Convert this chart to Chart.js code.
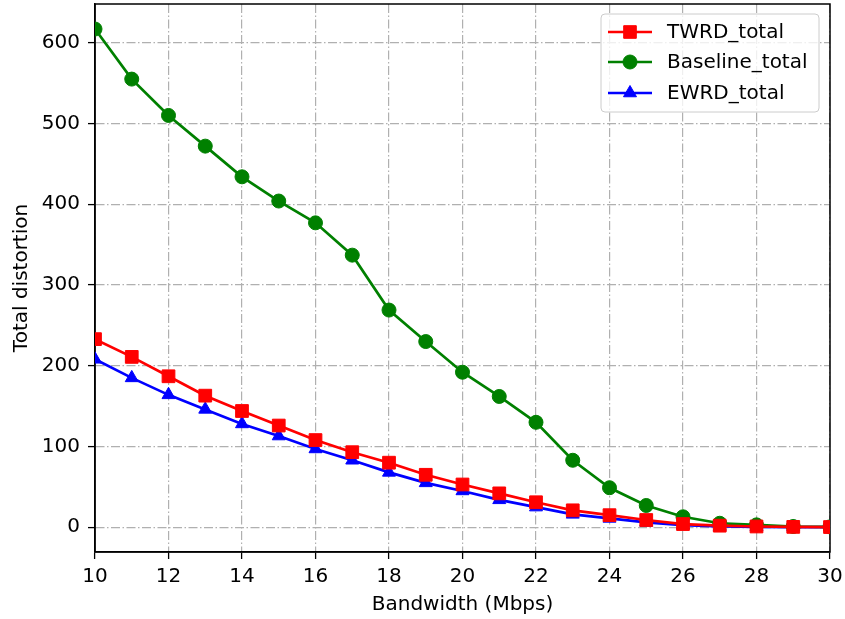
<!DOCTYPE html>
<html>
<head>
<meta charset="utf-8">
<script src="https://cdn.jsdelivr.net/npm/chart.js@4/dist/chart.umd.min.js"></script>
<style>
  html, body { margin: 0; padding: 0; background: #fff; }
  #wrap { width: 845px; height: 619px; }
</style>
</head>
<body>
<div id="wrap"><canvas id="c" width="845" height="619"></canvas></div>
<script>
const bandwidth = [10, 11, 12, 13, 14, 15, 16, 17, 18, 19, 20, 21, 22, 23, 24, 25, 26, 27, 28, 29, 30];
const twrdTotal = [233, 211, 187, 163, 144, 126, 108, 93, 80, 65, 53, 42, 31, 21, 15, 9, 4, 2, 1, 0.5, 0.3];
const baselineTotal = [617, 555, 510, 472, 434, 404, 377, 337, 269, 230, 192, 162, 130, 83, 49, 27, 13, 5, 3, 1, 0.5];
const ewrdTotal = [208, 185, 164, 146, 128, 113, 97, 83, 68, 55, 45, 34, 25, 16, 11, 6, 2.5, 1, 0.5, 0.3, 0.2];
const xTicks = [10, 12, 14, 16, 18, 20, 22, 24, 26, 28, 30];
const yTicks = [0, 100, 200, 300, 400, 500, 600];
const seriesNames = ['TWRD_total', 'Baseline_total', 'EWRD_total'];
const xTitle = 'Bandwidth (Mbps)';
const yTitle = 'Total distortion';

const FONT = "'DejaVu Sans', sans-serif";
const FS = 20;
const pts = arr => bandwidth.map((x, i) => ({x: x, y: arr[i]}));

function drawMarker(ctx, style, x, y, color) {
  ctx.save();
  ctx.fillStyle = color;
  ctx.strokeStyle = color;
  ctx.lineWidth = 1;
  ctx.beginPath();
  if (style === 'rect') {
    const s = 6.3;
    ctx.rect(x - s, y - s, 2 * s, 2 * s);
  } else if (style === 'circle') {
    ctx.arc(x, y, 7, 0, Math.PI * 2);
  } else {
    const r = 7.5;
    ctx.moveTo(x, y - r);
    ctx.lineTo(x + r * Math.sin(2 * Math.PI / 3), y - r * Math.cos(2 * Math.PI / 3));
    ctx.lineTo(x + r * Math.sin(4 * Math.PI / 3), y - r * Math.cos(4 * Math.PI / 3));
    ctx.closePath();
  }
  ctx.fill();
  ctx.stroke();
  ctx.restore();
}

const framePlugin = {
  id: 'frame',
  beforeDatasetsDraw(chart) {
    const {ctx, chartArea: a} = chart;
    ctx.save();
    ctx.strokeStyle = '#000';
    ctx.lineWidth = 1.5;
    ctx.strokeRect(a.left, a.top, a.right - a.left, a.bottom - a.top);
    ctx.restore();
  }
};

const legendPlugin = {
  id: 'mplLegend',
  afterDraw(chart) {
    const ctx = chart.ctx;
    const bx = 601, by = 14, bw = 218, bh = 98, r = 4;
    ctx.save();
    ctx.beginPath();
    ctx.moveTo(bx + r, by);
    ctx.lineTo(bx + bw - r, by);
    ctx.arcTo(bx + bw, by, bx + bw, by + r, r);
    ctx.lineTo(bx + bw, by + bh - r);
    ctx.arcTo(bx + bw, by + bh, bx + bw - r, by + bh, r);
    ctx.lineTo(bx + r, by + bh);
    ctx.arcTo(bx, by + bh, bx, by + bh - r, r);
    ctx.lineTo(bx, by + r);
    ctx.arcTo(bx, by, bx + r, by, r);
    ctx.closePath();
    ctx.fillStyle = 'rgba(255,255,255,0.8)';
    ctx.fill();
    ctx.strokeStyle = '#cccccc';
    ctx.lineWidth = 1;
    ctx.stroke();
    const rows = [32, 62, 93];
    chart.data.datasets.forEach((ds, i) => {
      const y = rows[i];
      ctx.beginPath();
      ctx.strokeStyle = ds.borderColor;
      ctx.lineWidth = 2.7;
      ctx.moveTo(608, y);
      ctx.lineTo(652, y);
      ctx.stroke();
      drawMarker(ctx, ds.pointStyle, 630, y, ds.borderColor);
      ctx.fillStyle = '#000';
      ctx.font = FS + 'px ' + FONT;
      ctx.textAlign = 'left';
      ctx.textBaseline = 'middle';
      ctx.fillText(ds.label, 667, y + 1);
    });
    ctx.restore();
  }
};

const mkDs = (label, data, color, style, radius) => ({
  label: label,
  data: pts(data),
  borderColor: color,
  backgroundColor: color,
  pointBackgroundColor: color,
  pointBorderColor: color,
  pointBorderWidth: 1,
  borderWidth: 2.7,
  pointStyle: style,
  pointRadius: radius,
  pointHoverRadius: radius,
  tension: 0,
  fill: false,
  clip: 0
});

new Chart(document.getElementById('c'), {
  type: 'line',
  data: {
    datasets: [
      mkDs(seriesNames[0], twrdTotal, '#ff0000', 'rect', 9),
      mkDs(seriesNames[1], baselineTotal, '#008000', 'circle', 7),
      mkDs(seriesNames[2], ewrdTotal, '#0000ff', 'triangle', 7.5)
    ]
  },
  options: {
    responsive: false,
    devicePixelRatio: 1,
    animation: false,
    layout: { autoPadding: false, padding: { left: 0, right: 15, top: 4, bottom: 0 } },
    plugins: { legend: { display: false }, tooltip: { enabled: false } },
    scales: {
      x: {
        type: 'linear',
        min: 10, max: 30,
        afterBuildTicks: s => { s.ticks = xTicks.map(v => ({value: v})); },
        afterFit: s => { s.height = 67; s.paddingLeft = 0; s.paddingRight = 0; },
        ticks: { color: '#000', font: { family: FONT, size: FS }, padding: 6, maxRotation: 0, autoSkip: false },
        grid: { color: '#b0b0b0', lineWidth: 1.2, tickLength: 7, tickColor: '#000', tickWidth: 1.3, tickBorderDash: [] },
        border: { display: true, color: '#000', width: 1.5, dash: [9, 2.5, 1.5, 2.5] },
        title: { display: true, text: xTitle, color: '#000', font: { family: FONT, size: FS }, padding: { top: 0, bottom: 2 } }
      },
      y: {
        type: 'linear',
        min: -30.6, max: 648,
        afterBuildTicks: s => { s.ticks = yTicks.map(v => ({value: v})); },
        afterFit: s => { s.width = 95; s.paddingTop = 0; s.paddingBottom = 0; },
        ticks: { color: '#000', font: { family: FONT, size: FS }, padding: 8 },
        grid: { color: '#b0b0b0', lineWidth: 1.2, tickLength: 7, tickColor: '#000', tickWidth: 1.3, tickBorderDash: [] },
        border: { display: true, color: '#000', width: 1.5, dash: [9, 2.5, 1.5, 2.5] },
        title: { display: true, text: yTitle, color: '#000', font: { family: FONT, size: FS }, padding: { top: 10, bottom: 0 } }
      }
    }
  },
  plugins: [framePlugin, legendPlugin]
});
</script>
</body>
</html>
